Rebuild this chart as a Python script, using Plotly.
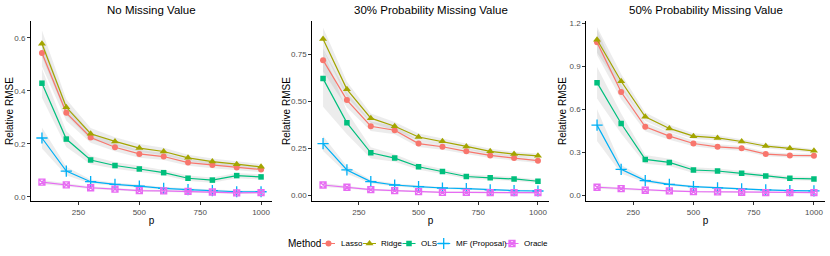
import plotly.graph_objects as go

p_values = [100, 200, 300, 400, 500, 600, 700, 800, 900, 1000]
methods = ["Lasso", "Ridge", "OLS", "MF (Proposal)", "Oracle"]
panel_titles = ["No Missing Value", "30% Probability Missing Value", "50% Probability Missing Value"]

# Panel 1: no missing value (mean relative RMSE)
lasso_0 = [0.543, 0.317, 0.224, 0.187, 0.162, 0.152, 0.129, 0.120, 0.111, 0.103]
ridge_0 = [0.578, 0.338, 0.238, 0.209, 0.184, 0.171, 0.147, 0.133, 0.123, 0.113]
ols_0 = [0.429, 0.218, 0.139, 0.118, 0.105, 0.091, 0.070, 0.063, 0.080, 0.075]
mf_0 = [0.222, 0.097, 0.057, 0.047, 0.040, 0.032, 0.027, 0.023, 0.019, 0.019]
oracle_0 = [0.055, 0.045, 0.034, 0.029, 0.023, 0.022, 0.020, 0.018, 0.015, 0.016]

# Panel 2: 30% probability missing value
lasso_30 = [0.718, 0.506, 0.367, 0.346, 0.275, 0.258, 0.234, 0.212, 0.198, 0.184]
ridge_30 = [0.830, 0.563, 0.410, 0.367, 0.310, 0.287, 0.260, 0.234, 0.219, 0.210]
ols_30 = [0.620, 0.385, 0.226, 0.198, 0.152, 0.127, 0.100, 0.093, 0.087, 0.075]
mf_30 = [0.275, 0.135, 0.073, 0.055, 0.046, 0.039, 0.036, 0.029, 0.025, 0.023]
oracle_30 = [0.055, 0.043, 0.030, 0.025, 0.020, 0.016, 0.016, 0.014, 0.014, 0.014]

# Panel 3: 50% probability missing value
lasso_50 = [1.066, 0.720, 0.477, 0.412, 0.361, 0.338, 0.327, 0.287, 0.278, 0.276]
ridge_50 = [1.084, 0.795, 0.547, 0.466, 0.412, 0.400, 0.375, 0.343, 0.327, 0.310]
ols_50 = [0.785, 0.500, 0.250, 0.229, 0.176, 0.169, 0.153, 0.134, 0.118, 0.114]
mf_50 = [0.489, 0.181, 0.102, 0.076, 0.060, 0.051, 0.044, 0.037, 0.032, 0.030]
oracle_50 = [0.056, 0.046, 0.035, 0.030, 0.025, 0.023, 0.021, 0.019, 0.019, 0.019]

# Half-widths of the grey ribbons
lasso_0_hw = [0.050, 0.030, 0.020, 0.015, 0.015, 0.013, 0.012, 0.012, 0.011, 0.010]
ridge_0_hw = [0.050, 0.030, 0.022, 0.016, 0.015, 0.014, 0.012, 0.012, 0.011, 0.010]
ols_0_hw = [0.055, 0.030, 0.016, 0.012, 0.012, 0.010, 0.010, 0.010, 0.010, 0.010]
mf_0_hw = [0.040, 0.016, 0.008, 0.006, 0.006, 0.005, 0.005, 0.005, 0.005, 0.005]
oracle_0_hw = [0.008, 0.006, 0.005, 0.004, 0.004, 0.004, 0.004, 0.004, 0.004, 0.004]

lasso_30_hw = [0.060, 0.040, 0.025, 0.022, 0.018, 0.016, 0.015, 0.014, 0.013, 0.012]
ridge_30_hw = [0.060, 0.040, 0.025, 0.022, 0.018, 0.016, 0.015, 0.014, 0.013, 0.012]
ols_30_hw = [0.150, 0.060, 0.030, 0.020, 0.016, 0.014, 0.012, 0.012, 0.011, 0.010]
mf_30_hw = [0.040, 0.020, 0.010, 0.008, 0.007, 0.006, 0.006, 0.005, 0.005, 0.005]
oracle_30_hw = [0.010, 0.007, 0.005, 0.005, 0.004, 0.004, 0.004, 0.004, 0.004, 0.004]

lasso_50_hw = [0.090, 0.050, 0.030, 0.025, 0.020, 0.018, 0.016, 0.015, 0.014, 0.013]
ridge_50_hw = [0.090, 0.050, 0.030, 0.025, 0.020, 0.018, 0.016, 0.015, 0.014, 0.013]
ols_50_hw = [0.110, 0.070, 0.030, 0.025, 0.020, 0.018, 0.016, 0.015, 0.014, 0.013]
mf_50_hw = [0.110, 0.030, 0.015, 0.010, 0.008, 0.007, 0.006, 0.006, 0.005, 0.005]
oracle_50_hw = [0.010, 0.007, 0.005, 0.005, 0.004, 0.004, 0.004, 0.004, 0.004, 0.004]

y_tick_vals = [[0.0, 0.2, 0.4, 0.6], [0.0, 0.25, 0.5, 0.75], [0.0, 0.3, 0.6, 0.9, 1.2]]
y_tick_text = [["0.0", "0.2", "0.4", "0.6"], ["0.00", "0.25", "0.50", "0.75"],
               ["0.0", "0.3", "0.6", "0.9", "1.2"]]
x_tick_vals = [250, 500, 750, 1000]

panels = [
    [lasso_0, ridge_0, ols_0, mf_0, oracle_0],
    [lasso_30, ridge_30, ols_30, mf_30, oracle_30],
    [lasso_50, ridge_50, ols_50, mf_50, oracle_50],
]
panel_hw = [
    [lasso_0_hw, ridge_0_hw, ols_0_hw, mf_0_hw, oracle_0_hw],
    [lasso_30_hw, ridge_30_hw, ols_30_hw, mf_30_hw, oracle_30_hw],
    [lasso_50_hw, ridge_50_hw, ols_50_hw, mf_50_hw, oracle_50_hw],
]

colors = ["#F8766D", "#A3A500", "#00BF7D", "#00B0F6", "#E76BF3"]
symbols = ["circle", "triangle-up", "square", "cross-thin-open", "square-x-open"]
msizes = [6, 7, 5.5, 8, 6]

W, H = 830, 256
x_dom = [[31 / W, 272 / W], [312.3 / W, 548.7 / W], [586.2 / W, 824.8 / W]]
y_dom = [1 - 201 / H, 1 - 21 / H]
y_ranges = [[-0.016, 0.664], [-0.03, 0.926], [-0.04, 1.215]]
ytitle_x = [9, 286, 562]

# legend layout (pixel positions along the bottom strip)
legend_key_x = [328.5, 369.5, 409, 443.7, 512]
legend_text_x = [339, 379, 419, 454, 522]
legend_title_x = 286
legend_y = 243.5

FONT = "Liberation Sans, Arial, sans-serif"

fig = go.Figure()

for k in range(3):
    xa = "x" if k == 0 else f"x{k + 1}"
    ya = "y" if k == 0 else f"y{k + 1}"
    for m in range(5):
        vals = panels[k][m]
        hw = panel_hw[k][m]
        upper = [v + h for v, h in zip(vals, hw)]
        lower = [v - h for v, h in zip(vals, hw)]
        fig.add_trace(go.Scatter(
            x=p_values + p_values[::-1], y=upper + lower[::-1],
            fill="toself", fillcolor="rgba(140,140,140,0.17)",
            line=dict(width=0), mode="lines", hoverinfo="skip",
            showlegend=False, xaxis=xa, yaxis=ya))
    for m in range(5):
        fig.add_trace(go.Scatter(
            x=p_values, y=panels[k][m], mode="lines+markers", name=methods[m],
            showlegend=False,
            line=dict(color=colors[m], width=1.2),
            marker=dict(symbol=symbols[m], size=msizes[m], color=colors[m],
                        line=dict(color=colors[m], width=1.3 if m >= 3 else 0)),
            xaxis=xa, yaxis=ya))

# legend keys drawn on a hidden pixel-scaled axis
for m in range(5):
    c = legend_key_x[m]
    fig.add_trace(go.Scatter(
        x=[c - 6.5, c + 6.5], y=[0.5, 0.5], mode="lines", showlegend=False,
        hoverinfo="skip", line=dict(color=colors[m], width=1.2), xaxis="x4", yaxis="y4"))
    fig.add_trace(go.Scatter(
        x=[c], y=[0.5], mode="markers", showlegend=False, hoverinfo="skip", name=methods[m],
        marker=dict(symbol=symbols[m], size=msizes[m], color=colors[m],
                    line=dict(color=colors[m], width=1.3 if m >= 3 else 0)),
        xaxis="x4", yaxis="y4"))

annotations = []
for k in range(3):
    annotations.append(dict(
        text="Relative RMSE", textangle=-90, x=ytitle_x[k] / W, y=(y_dom[0] + y_dom[1]) / 2,
        xref="paper", yref="paper", xanchor="center", yanchor="middle", showarrow=False,
        font=dict(size=10, color="black", family=FONT)))
    annotations.append(dict(
        text=panel_titles[k], x=(x_dom[k][0] + x_dom[k][1]) / 2, y=1 - 10 / H,
        xref="paper", yref="paper", xanchor="center", yanchor="middle", showarrow=False,
        font=dict(size=11.5, color="black", family=FONT)))
annotations.append(dict(
    text="Method", x=legend_title_x, y=0.5, xref="x4", yref="y4", xanchor="left",
    yanchor="middle", showarrow=False, font=dict(size=10, color="black", family=FONT)))
for m in range(5):
    annotations.append(dict(
        text=methods[m], x=legend_text_x[m], y=0.5, xref="x4", yref="y4", xanchor="left",
        yanchor="middle", showarrow=False, font=dict(size=8, color="black", family=FONT)))

layout = dict(
    width=W, height=H, margin=dict(l=0, r=0, t=0, b=0),
    paper_bgcolor="white", plot_bgcolor="white",
    font=dict(family=FONT, size=8, color="#4d4d4d"),
    showlegend=False,
    annotations=annotations,
    xaxis4=dict(domain=[0, 1], range=[0, W], visible=False, fixedrange=True, anchor="y4"),
    yaxis4=dict(domain=[1 - (legend_y + 8) / H, 1 - (legend_y - 8) / H], range=[0, 1],
                visible=False, fixedrange=True, anchor="x4"),
)

for k in range(3):
    sx = "" if k == 0 else str(k + 1)
    layout[f"xaxis{sx}"] = dict(
        domain=x_dom[k], range=[55, 1045], tickvals=x_tick_vals,
        showline=True, linecolor="black", linewidth=1, ticks="outside", ticklen=3,
        tickcolor="#333333", showgrid=False, zeroline=False, automargin=False,
        anchor="y" if k == 0 else f"y{k + 1}",
        tickfont=dict(size=8, color="#4d4d4d"),
        title=dict(text="p", font=dict(size=10, color="black"), standoff=1),
    )
    layout[f"yaxis{sx}"] = dict(
        domain=y_dom, range=y_ranges[k], tickvals=y_tick_vals[k], ticktext=y_tick_text[k],
        showline=True, linecolor="black", linewidth=1, ticks="outside", ticklen=3,
        tickcolor="#333333", showgrid=False, zeroline=False, automargin=False,
        anchor="x" if k == 0 else f"x{k + 1}",
        tickfont=dict(size=8, color="#4d4d4d"),
    )

fig.update_layout(**layout)
fig.write_html("out.html", config={"displayModeBar": False},
               post_script="document.body.style.margin='0px';")
